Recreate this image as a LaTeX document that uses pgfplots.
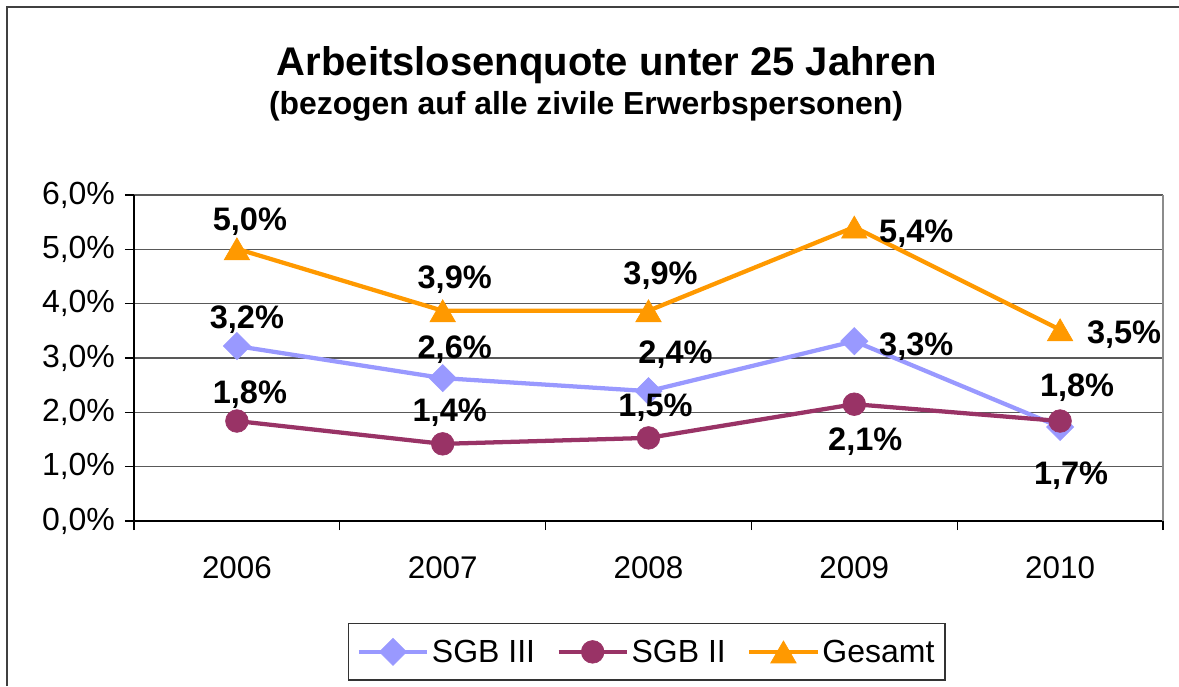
\documentclass[border=0pt]{standalone}
\usepackage{fontspec}
\setmainfont{Liberation Sans}
\usepackage{pgfplots}
\pgfplotsset{compat=1.18}
\usepackage{pgfplotstable}

\definecolor{sgbiiicol}{HTML}{9999FF}
\definecolor{sgbiicol}{HTML}{993366}
\definecolor{gesamtcol}{HTML}{FF9900}

% x, value, label, label offset (px, right / down)
\pgfplotstableread{
x y lab dx dy
0 3.22 3.2 10 -26
1 2.63 2.6 12 -28
2 2.39 2.4 27 -36
3 3.31 3.3 62 5
4 1.73 1.7 11 49
}\sgbiii
\pgfplotstableread{
x y lab dx dy
0 1.84 1.8 13 -26
1 1.42 1.4 7 -31
2 1.53 1.5 7 -30
3 2.15 2.1 11 37
4 1.84 1.8 17 -33
}\sgbii
\pgfplotstableread{
x y lab dx dy
0 5.01 5.0 13 -31
1 3.87 3.9 12 -35
2 3.87 3.9 12 -39
3 5.41 5.4 62 3
4 3.52 3.5 64 1
}\gesamt

\begin{document}
\begin{tikzpicture}
\path[use as bounding box] (0pt,0pt) rectangle (884.25pt,-514.5pt);
\draw[black!75, line width=1.1pt] (5.25pt,-514.5pt) -- (5.25pt,-5.25pt) -- (884.25pt,-5.25pt);

\node[anchor=base, font=\bfseries\fontsize{30}{36}\selectfont] at (455.25pt,-56.25pt)
  {Arbeitslosenquote unter 25 Jahren};
\node[anchor=base, font=\bfseries\fontsize{23.9}{28}\selectfont] at (439.5pt,-85.5pt)
  {(bezogen auf alle zivile Erwerbspersonen)};

\begin{axis}[
    at={(100.5pt,-390.75pt)}, anchor=south west,
    scale only axis,
    width=771.75pt, height=244.5pt,
    xmin=-0.5, xmax=4.5,
    ymin=0, ymax=6,
    axis lines*=left,
    axis line style={black, line width=1pt},
    tick pos=left,
    tick align=outside,
    xtick={0,1,2,3,4},
    xticklabels={2006,2007,2008,2009,2010},
    every major x tick/.append style={draw=none},
    minor xtick={-0.5,0.5,1.5,2.5,3.5,4.5},
    minor tick length=6.75pt,
    major tick length=6.75pt,
    every tick/.append style={black, line width=1pt},
    ytick={0,1,2,3,4,5,6},
    yticklabel={\pgfmathprintnumber[fixed,fixed zerofill,precision=1,use comma]{\tick}\%},
    /pgf/number format/assume math mode=true,
    xticklabel style={font=\fontsize{23.5}{28}\selectfont, yshift=-16.5pt},
    yticklabel style={font=\fontsize{24}{28}\selectfont, xshift=-4pt},
    ymajorgrids=true,
    major grid style={black!65, line width=1pt},
    extra x ticks={4.5},
    extra x tick labels={},
    extra x tick style={grid=major, major grid style={black!45, line width=1.2pt}},
    clip=false,
    nodes near coords={\pgfmathprintnumber[fixed,fixed zerofill,precision=1,use comma]{\pgfplotspointmeta}\%},
    point meta=\thisrow{lab},
    visualization depends on={\thisrow{dx}\as\ldx},
    visualization depends on={\thisrow{dy}\as\ldy},
    every node near coord/.append style={anchor=center, text=black,
        font=\bfseries\fontsize{24.4}{28}\selectfont,
        xshift={(\ldx)*0.75pt}, yshift={-(\ldy)*0.75pt}},
    legend columns=3,
    legend style={at={(0.208,-0.313)}, anchor=north west,
        draw=black!80, line width=1pt,
        font=\fontsize{24}{28}\selectfont,
        inner xsep=6pt, inner ysep=10pt,
        /tikz/every even column/.append style={column sep=14pt}},
    legend image code/.code={\draw[mark repeat=2,mark phase=2] plot coordinates {(0cm,0cm)(0.9cm,0cm)(1.8cm,0cm)};},
]
\addplot[sgbiiicol, line width=3.2pt, mark=square*, mark size=7.2pt, mark options={solid, rotate=45, fill=sgbiiicol, draw=sgbiiicol, line width=0.5pt}]
    table[x=x, y=y] {\sgbiii};
\addlegendentry{SGB III}
\addplot[sgbiicol, line width=3.2pt, mark=*, mark size=8.5pt, mark options={solid, fill=sgbiicol, draw=sgbiicol, line width=0.5pt}]
    table[x=x, y=y] {\sgbii};
\addlegendentry{SGB II}
\addplot[gesamtcol, line width=3.2pt, mark=triangle*, mark size=11pt, mark options={solid, yshift=-2.8pt, fill=gesamtcol, draw=gesamtcol, line width=0.5pt}]
    table[x=x, y=y] {\gesamt};
\addlegendentry{Gesamt}
\end{axis}
\end{tikzpicture}
\end{document}
